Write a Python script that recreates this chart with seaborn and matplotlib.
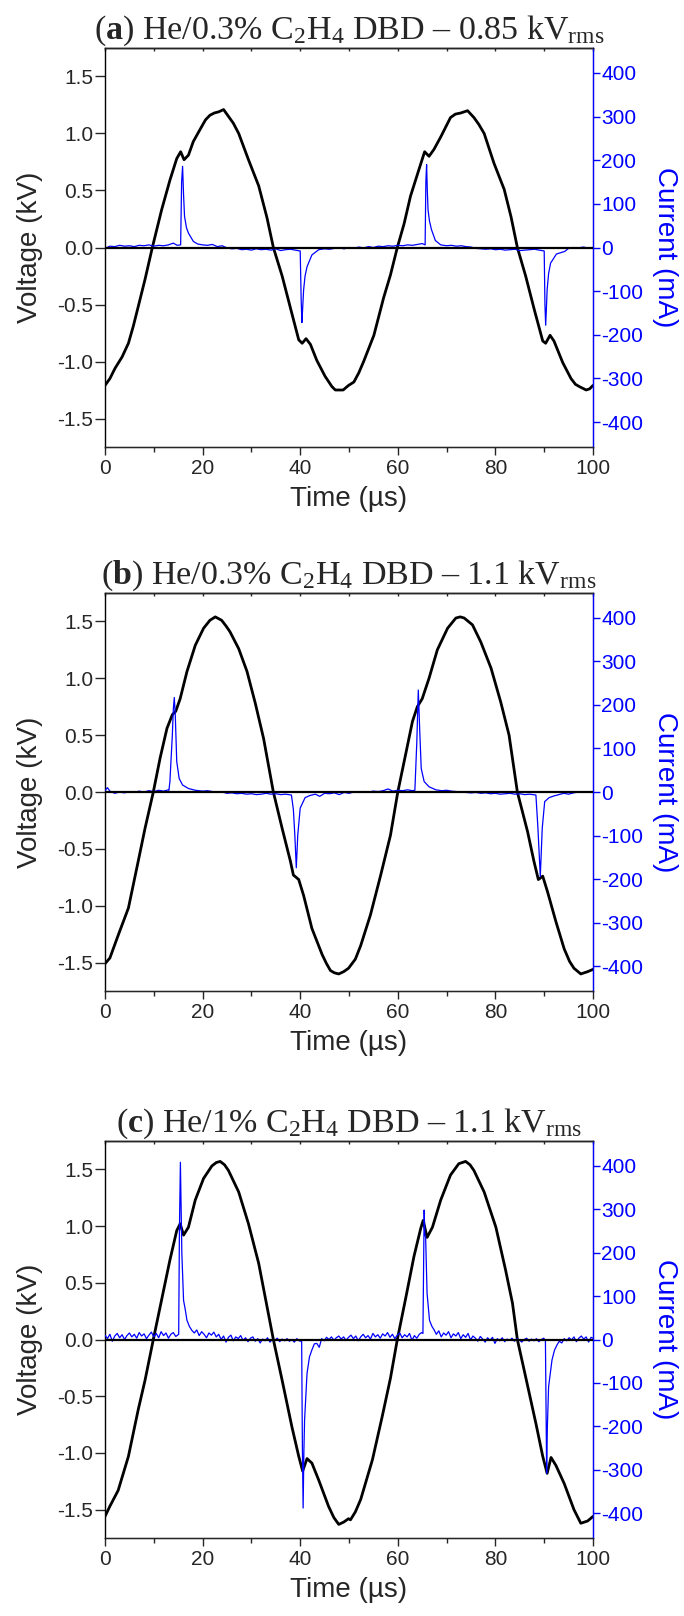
import matplotlib
matplotlib.use("Agg")
import matplotlib.pyplot as plt
from matplotlib.ticker import MultipleLocator
import pandas as pd
import seaborn as sns

# voltage traces (time in us, voltage in kV)
volt_a = [(0, -1.21), (1, -1.15), (2.05, -1.06), (3.5, -0.96), (4.8, -0.84), (5.8, -0.69), (6.8, -0.52),
          (8.2, -0.28), (9.7, 0.0), (11.6, 0.33), (13.3, 0.59), (14.7, 0.78), (15.5, 0.84),
          (16.2, 0.77), (17.1, 0.81), (18.1, 0.93), (19.8, 1.06), (20.6, 1.12), (21.5, 1.16),
          (22.4, 1.18), (23.3, 1.19), (24.3, 1.21), (25.3, 1.15), (26.3, 1.09), (27.4, 1.00),
          (29.4, 0.77), (31.5, 0.54), (33.2, 0.26), (34.5, 0.0), (36.3, -0.25), (38.3, -0.58),
          (39.7, -0.81), (40.4, -0.84), (41.2, -0.80), (42.1, -0.85), (43.4, -0.99), (45.1, -1.13),
          (46.5, -1.22), (47.2, -1.25), (47.9, -1.25), (48.8, -1.25), (49.9, -1.21),
          (51.0, -1.18), (52.0, -1.10), (53.0, -1.00), (55.1, -0.77), (57.1, -0.44), (58.5, -0.24),
          (59.9, 0.0), (61.3, 0.21), (62.6, 0.45), (64.3, 0.68), (65.5, 0.84), (66.4, 0.80),
          (67.4, 0.86), (68.8, 0.97), (70.8, 1.14), (71.8, 1.17), (72.9, 1.18), (74.3, 1.20),
          (75.6, 1.14), (76.6, 1.08), (77.7, 1.00), (79.7, 0.74), (81.8, 0.51), (83.2, 0.27),
          (84.5, 0.0), (86.2, -0.25), (88.0, -0.55), (89.7, -0.82), (90.3, -0.84), (91.2, -0.77),
          (92.0, -0.82), (93.8, -1.01), (95.5, -1.15), (96.4, -1.20), (97.2, -1.22), (98.6, -1.25),
          (99.3, -1.24), (100, -1.21)]

volt_b = [(0, -1.51), (1.0, -1.46), (2.7, -1.26), (4.8, -1.02), (6.8, -0.61), (8.2, -0.32),
          (9.9, 0.0), (11.3, 0.30), (12.7, 0.56), (13.8, 0.68), (14.5, 0.71), (15.4, 0.82),
          (16.8, 1.06), (18.5, 1.29), (20.2, 1.44), (21.5, 1.51), (22.6, 1.54), (23.9, 1.51),
          (24.8, 1.46), (25.6, 1.41), (27.4, 1.26), (29.1, 1.06), (30.8, 0.78), (32.5, 0.47),
          (34.5, 0.0), (36.3, -0.32), (38.0, -0.61), (38.6, -0.73), (39.7, -0.77), (40.7, -0.91),
          (42.4, -1.20), (44.5, -1.43), (45.4, -1.51), (46.2, -1.57), (47.0, -1.59), (47.9, -1.60),
          (48.9, -1.58), (49.9, -1.55), (51.3, -1.47), (52.4, -1.35),
          (54.4, -1.08), (56.5, -0.73), (58.5, -0.38), (60.0, 0.0), (61.6, 0.33), (63.0, 0.62),
          (64.0, 0.75), (65.0, 0.82), (66.4, 1.00), (68.1, 1.25), (70.2, 1.44), (71.9, 1.53),
          (72.8, 1.54), (73.6, 1.53), (75.3, 1.47), (77.0, 1.32), (79.1, 1.09), (81.1, 0.79),
          (82.8, 0.50), (84.5, 0.0), (86.6, -0.35), (87.9, -0.61), (88.8, -0.77), (89.7, -0.74),
          (90.7, -0.88), (92.4, -1.14), (94.1, -1.38), (95.2, -1.49), (96.1, -1.55), (97.5, -1.60),
          (98.9, -1.58), (100, -1.56)]

volt_c = [(0, -1.56), (1.0, -1.47), (2.7, -1.33), (4.8, -1.03), (6.8, -0.62), (8.2, -0.36),
          (9.9, 0.0), (11.6, 0.35), (13.3, 0.70), (14.7, 0.96), (15.4, 1.02), (16.1, 0.92),
          (17.1, 0.99), (18.5, 1.23), (20.2, 1.42), (21.9, 1.53), (22.8, 1.56), (23.6, 1.57),
          (24.5, 1.54), (25.3, 1.49), (27.4, 1.30), (29.4, 1.02), (31.5, 0.67), (33.2, 0.29),
          (34.5, 0.0), (36.3, -0.36), (38.3, -0.77), (39.7, -1.03), (40.5, -1.16), (41.4, -1.05),
          (42.4, -1.09), (43.8, -1.24), (45.8, -1.47), (46.9, -1.57), (47.9, -1.63), (48.9, -1.61),
          (49.9, -1.58), (50.3, -1.59), (51.3, -1.52), (52.4, -1.41), (54.8, -1.06),
          (56.8, -0.68), (58.5, -0.34), (59.9, 0.0), (61.6, 0.36), (63.3, 0.73), (64.7, 0.98),
          (65.2, 1.05), (66.0, 0.90), (67.1, 0.99), (68.8, 1.23), (70.8, 1.45), (72.5, 1.55),
          (73.9, 1.57), (74.8, 1.54), (75.6, 1.49), (77.7, 1.30), (80.1, 0.99), (82.1, 0.61),
          (83.5, 0.32), (84.5, 0.0), (86.2, -0.33), (88.3, -0.74), (89.7, -1.03), (90.6, -1.18),
          (91.4, -1.04), (92.4, -1.11), (94.1, -1.27), (96.1, -1.50), (97.5, -1.62), (98.9, -1.60),
          (100, -1.56)]

# current traces (time in us, current in mA)
cur_a = [(0, -2), (1, 3), (2, 2), (3, 5), (4, 3), (5, 4), (6, 2), (7, 5), (8, 4), (9, 6), (10, 3),
         (11, 5), (12, 4), (13, 6), (14, 10), (14.8, 5), (15.5, 6), (15.7, 150), (15.9, 186),
         (16.1, 120), (16.3, 71), (16.7, 45), (17.1, 33), (18.1, 14), (19, 8), (20, 6), (21, 5),
         (22, 7), (23, 2), (24, 4), (25, -1), (26, -3), (27, -2), (28, -5), (29, -4), (30, -6),
         (31, -3), (32, -5), (33, -4), (34, -6), (35, -3), (36, -7), (37, -5), (38, -4), (39, -6),
         (40.0, -8), (40.2, -120), (40.35, -172), (40.5, -140), (40.7, -97), (41.0, -65),
         (41.4, -44), (42.4, -17), (43.8, -5), (45, -3), (46, -4), (47, -2), (48, -1), (49, -3),
         (50, 0), (51, -2), (52, 1), (53, -1), (54, 2), (55, 0), (56, 3), (57, 2), (58, 4), (59, 3),
         (60, 5), (61, 4), (62, 6), (63, 5), (64, 7), (65, 9), (65.6, 6), (65.75, 150), (65.9, 190),
         (66.05, 130), (66.2, 86), (66.5, 60), (66.9, 41), (67.7, 16), (68.8, 6), (70, 4), (71, 5),
         (72, 3), (73, 4), (74, 2), (75, 1), (76, -2), (77, -3), (78, -4), (79, -3), (80, -5),
         (81, -4), (82, -6), (83, -5), (84, -4), (85, -7), (86, -6), (87, -5), (88, -4), (89, -6),
         (90.0, -8), (90.15, -130), (90.3, -178), (90.45, -140), (90.6, -97), (90.9, -60),
         (91.3, -36), (92.5, -15), (94.2, -9), (95, -2), (96, 0), (97, -1), (98, 1), (99, -1),
         (100, 0)]

cur_b = [(0, 3), (0.5, 10), (1, 2), (2, -3), (3, 0), (4, -2), (5, 1), (6, -1), (7, 2), (8, 0),
         (9, 3), (10, 1), (11, 4), (12, 2), (13, 5), (13.1, 4), (13.3, 24), (13.8, 131), (14.0, 190),
         (14.2, 217), (14.4, 177), (14.7, 70), (15.2, 31), (15.9, 16), (17.1, 8), (18.5, 4), (20, 2),
         (21, 3), (22, 1), (23, -1), (24, 0), (25, -3), (26, -2), (27, -4), (28, -3), (29, -5),
         (30, -4), (31, -6), (32, -5), (33, -3), (34, -5), (35, -4), (36, -6), (37, -5), (38.2, -7),
         (38.6, -40), (38.9, -99), (39.2, -174), (39.5, -99), (40.0, -37), (41.0, -13), (42, -8),
         (43.1, -5), (44, -10), (45, -3), (46, -4), (47, -2), (48, -6), (49, -1), (50, -3), (51, 0),
         (52, -1), (53, 1), (54, 0), (55, 2), (56, 1), (57, 3), (58, 7), (59, 2), (60, 4), (61, 3),
         (62, 5), (63, 3), (63.5, 4), (63.9, 116), (64.2, 234), (64.5, 139), (64.8, 54), (65.4, 24),
         (66.4, 12), (67.8, 5), (69, 3), (70, 4), (71, 2), (72, 1), (73, 0), (74, -1), (75, -2),
         (76, -1), (77, -3), (78, -2), (79, -4), (80, -3), (81, -5), (82, -4), (83, -3), (84, -5),
         (85, -4), (86, -6), (87, -5), (88.3, -7), (88.7, -80), (89.2, -194), (89.6, -83),
         (90.1, -22), (91.0, -13), (92, -9), (92.7, -7), (94, -3), (95, -5), (96, -2), (97, 0),
         (98, -1), (99, 0), (100, -1)]

cur_c = [(0, 10), (0.5, 2), (1, 12), (1.5, -4), (2, 8), (2.5, 14), (3, 4), (3.5, 11), (4, 0),
         (4.5, 9), (5, 15), (5.5, 6), (6, 12), (6.5, 3), (7, 16), (7.5, 8), (8, 13), (8.5, 2),
         (9, 10), (9.5, 17), (10, 6), (10.5, 14), (11, 4), (11.5, 18), (12, 9), (12.5, 15), (13, 3),
         (13.5, 12), (14, 16), (14.5, 7), (15.1, 12), (15.25, 250), (15.45, 408), (15.6, 300),
         (15.75, 197), (16.1, 90), (16.4, 72), (16.8, 44), (17.3, 30), (17.8, 21), (18.3, 15),
         (18.8, 22), (19.3, 9), (19.8, 18), (20.3, 12), (20.8, 4), (21.3, 15), (21.8, 10),
         (22.3, 17), (22.8, 6), (23.3, 12), (23.8, 0), (24.3, 8), (24.8, -6), (25.3, 5), (25.8, 10),
         (26.3, -3), (26.8, 6), (27.3, 2), (27.8, 9), (28.3, -2), (28.8, 4), (29.3, -5), (29.8, 3),
         (30.3, 6), (30.8, -4), (31.3, 2), (31.8, -8), (32.3, 1), (32.8, -3), (33.3, 4), (33.8, -6),
         (34.3, 0), (34.8, -2), (35.3, 3), (35.8, -5), (36.3, 1), (36.8, -3), (37.3, 2), (37.8, -4),
         (38.3, 0), (38.8, -6), (39.3, 2), (39.8, -3), (40.3, -5), (40.45, -250), (40.6, -388),
         (40.75, -260), (40.9, -185), (41.4, -78), (41.9, -40), (42.4, -24), (42.9, -10),
         (43.4, -9), (43.9, -18), (44.4, 2), (44.9, -3), (45.4, 5), (45.9, 0), (46.4, 6), (46.9, -2),
         (47.4, 4), (47.9, 8), (48.4, 1), (48.9, 6), (49.4, -2), (49.9, 5), (50.4, 10), (50.9, 2),
         (51.4, 8), (51.9, -3), (52.4, 6), (52.9, 12), (53.4, 4), (53.9, 9), (54.4, 1), (54.9, 14),
         (55.4, 6), (55.9, 11), (56.4, 3), (56.9, 13), (57.4, 8), (57.9, 16), (58.4, 5), (58.9, 12),
         (59.4, 2), (59.9, 10), (60.4, 15), (60.9, 4), (61.4, 11), (61.9, 6), (62.4, 14), (62.9, -2),
         (63.4, 9), (63.9, 3), (64.4, 12), (64.9, 16), (65.15, 14), (65.3, 200), (65.4, 298),
         (65.55, 240), (65.7, 236), (66.0, 106), (66.5, 44), (67.0, 30), (67.4, 23), (67.9, 12),
         (68.4, 20), (68.9, 6), (69.4, 15), (69.9, 10), (70.4, 18), (70.9, 4), (71.4, 13), (71.9, 8),
         (72.4, 16), (72.9, 2), (73.4, 11), (73.9, 5), (74.4, 14), (74.9, -1), (75.4, 8), (75.9, 3),
         (76.4, -4), (76.9, 7), (77.4, 1), (77.9, -6), (78.4, 4), (78.9, -2), (79.4, 5), (79.9, -9),
         (80.4, 2), (80.9, -3), (81.4, 4), (81.9, -5), (82.4, 1), (82.9, -2), (83.4, 3), (83.9, -4),
         (84.4, 2), (84.9, -1), (85.4, -6), (85.9, 0), (86.4, 3), (86.9, -4), (87.4, 1), (87.9, -3),
         (88.4, 2), (88.9, -5), (89.4, 0), (89.9, 3), (90.25, -2), (90.4, -200), (90.5, -308),
         (90.65, -200), (90.9, -109), (91.6, -47), (92.1, -25), (92.6, -13), (93.1, -4), (93.6, -8),
         (94.1, 2), (94.6, -3), (95.1, 4), (95.6, -1), (96.1, 6), (96.6, -5), (97.1, 3), (97.6, 8),
         (98.1, 1), (98.6, 6), (99.1, -6), (99.6, 5), (100, 3)]

panel_letters = ["a", "b", "c"]
mixtures = ["He/0.3%", "He/0.3%", "He/1%"]
rms_kv = ["0.85", "1.1", "1.1"]

sns.set_style("ticks")
plt.rcParams['font.family'] = ['Liberation Sans', 'DejaVu Sans']
plt.rcParams['mathtext.fontset'] = 'custom'
plt.rcParams['mathtext.rm'] = 'Liberation Serif'
plt.rcParams['mathtext.it'] = 'Liberation Serif:italic'
plt.rcParams['mathtext.bf'] = 'Liberation Serif:bold'

W, H = 684, 1616
fig = plt.figure(figsize=(W / 100, H / 100), dpi=100)

# axes boxes in pixels (top, bottom)
boxes = [(48, 447), (593, 991), (1141, 1538)]
left_px, right_px = 105, 593
blue = "#0000ff"

volts = [volt_a, volt_b, volt_c]
currs = [cur_a, cur_b, cur_c]

for k in range(3):
    top, bot = boxes[k]
    ax = fig.add_axes([left_px / W, 1 - bot / H, (right_px - left_px) / W, (bot - top) / H])
    ax2 = ax.twinx()

    dv = pd.DataFrame(volts[k], columns=["t", "V"])
    di = pd.DataFrame(currs[k], columns=["t", "I"])

    sns.lineplot(data=dv, x="t", y="V", ax=ax, color="black", linewidth=2.0, estimator=None)
    sns.lineplot(data=di, x="t", y="I", ax=ax2, color=blue, linewidth=0.9, estimator=None)
    ax2.axhline(0, color="black", linewidth=1.6, zorder=5)

    ax.set_xlim(0, 100)
    ax.set_ylim(-1.75, 1.75)
    ax2.set_ylim(-457, 457)

    ax.xaxis.set_major_locator(MultipleLocator(20))
    ax.xaxis.set_minor_locator(MultipleLocator(10))
    ax.yaxis.set_major_locator(MultipleLocator(0.5))
    ax2.yaxis.set_major_locator(MultipleLocator(100))
    ax.yaxis.set_major_formatter(lambda v, p: f"{v:.1f}")
    ax2.yaxis.set_major_formatter(lambda v, p: f"{v:.0f}")

    ax.tick_params(axis="y", which="major", direction="out", length=7, width=1,
                   labelsize=15, pad=1.5, right=False)
    ax.tick_params(axis="x", which="major", direction="out", length=6, width=1,
                   labelsize=15, pad=2.5)
    ax.tick_params(axis="x", which="minor", direction="out", length=3.5, width=1)
    ax2.tick_params(axis="y", which="major", direction="out", length=5, width=1,
                    labelsize=15, pad=0.8, colors=blue)

    # small inward ticks along the top frame
    sec = ax.secondary_xaxis("top")
    sec.xaxis.set_major_locator(MultipleLocator(10))
    sec.tick_params(direction="in", length=2.5, width=1, labeltop=False)
    sec.spines["top"].set_linewidth(1.0)

    for s in ["left", "top", "bottom"]:
        ax.spines[s].set_linewidth(1.0)
        ax.spines[s].set_color("black")
    ax2.spines["right"].set_color(blue)
    ax2.spines["right"].set_linewidth(1.0)
    ax2.spines["left"].set_visible(False)

    ax.set_xlabel("Time (µs)", fontsize=20, labelpad=6)
    ax.set_ylabel("Voltage (kV)", fontsize=20, labelpad=10)
    ax2.set_ylabel("Current (mA)", fontsize=20, color=blue, rotation=270, labelpad=25)

    title = (r"($\mathbf{%s}$) %s C$_2$H$_4$ DBD – %s kV$_{\mathrm{rms}}$"
             % (panel_letters[k], mixtures[k], rms_kv[k]))
    ax.set_title(title, fontsize=24.5, family="Liberation Serif", pad=4.5)

fig.savefig("out.png", dpi=100)
